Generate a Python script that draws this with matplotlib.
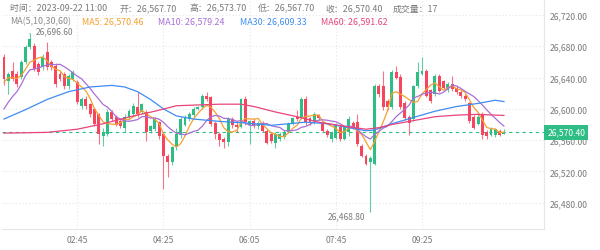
import matplotlib
matplotlib.use("Agg")
import matplotlib.pyplot as plt
import pandas as pd

plt.rcParams['font.family'] = ['Noto Sans CJK SC', 'DejaVu Sans']

# ── Data (5-minute candles, 01:20 → 11:00) ───────────────────────────────────
opens = [26666, 26636, 26648, 26645, 26641, 26660, 26679, 26680, 26657, 26654,
         26673, 26660, 26655, 26645, 26645, 26629, 26638, 26634, 26604, 26613,
         26606, 26600, 26593, 26565, 26568, 26596, 26590, 26585, 26576, 26590,
         26594, 26602, 26596, 26596, 26572, 26574, 26583, 26568, 26540, 26532,
         26551, 26566, 26580, 26587, 26592, 26600, 26602, 26617, 26615, 26582,
         26568, 26562, 26558, 26587, 26580, 26577, 26613, 26580, 26584, 26578,
         26582, 26572, 26568, 26556, 26561, 26564, 26571, 26581, 26590, 26590,
         26613, 26588, 26583, 26592, 26581, 26572, 26562, 26563, 26577, 26562,
         26570, 26582, 26583, 26553, 26540, 26532, 26530, 26629, 26629, 26610,
         26602, 26647, 26641, 26608, 26590, 26587, 26629, 26645, 26649, 26624,
         26619, 26642, 26635, 26624, 26632, 26627, 26622, 26617, 26607, 26590,
         26581, 26593, 26571, 26567, 26566, 26572, 26567.7]
closes = [26638, 26645, 26638, 26632, 26660, 26679, 26689, 26651, 26647, 26666,
          26654, 26654, 26632, 26638, 26629, 26642, 26647, 26609, 26613, 26604,
          26593, 26581, 26568, 26570, 26596, 26587, 26580, 26578, 26590, 26597,
          26604, 26593, 26606, 26570, 26578, 26587, 26565, 26540, 26532, 26551,
          26568, 26587, 26589, 26593, 26600, 26602, 26616, 26612, 26581, 26568,
          26560, 26558, 26587, 26580, 26577, 26612, 26583, 26584, 26578, 26582,
          26572, 26557, 26559, 26568, 26568, 26571, 26581, 26588, 26587, 26613,
          26583, 26583, 26594, 26588, 26572, 26566, 26570, 26580, 26561, 26578,
          26587, 26577, 26555, 26540, 26530, 26537, 26629, 26619, 26602, 26602,
          26647, 26640, 26602, 26588, 26582, 26629, 26647, 26649, 26617, 26610,
          26642, 26623, 26627, 26632, 26625, 26621, 26616, 26612, 26584, 26576,
          26590, 26567, 26565, 26575, 26574, 26567, 26570.4]
highs = [26670, 26647, 26660, 26648, 26662, 26682, 26696.6, 26684, 26660, 26670,
         26685, 26663, 26658, 26648, 26647, 26645, 26650, 26637, 26615, 26616,
         26608, 26602, 26595, 26575, 26600, 26598, 26592, 26588, 26594, 26600,
         26607, 26622, 26608, 26598, 26580, 26589, 26585, 26570, 26542, 26553,
         26575, 26589, 26592, 26596, 26602, 26604, 26619, 26621, 26617, 26584,
         26570, 26564, 26590, 26590, 26583, 26614, 26617, 26586, 26588, 26585,
         26584, 26574, 26570, 26571, 26570, 26573, 26583, 26590, 26598, 26615,
         26617, 26590, 26596, 26594, 26583, 26574, 26572, 26582, 26579, 26580,
         26591, 26585, 26593, 26555, 26542, 26540, 26632, 26632, 26648, 26612,
         26650, 26655, 26645, 26610, 26592, 26631, 26660, 26666, 26651, 26626,
         26645, 26644, 26637, 26634, 26642, 26629, 26624, 26619, 26609, 26592,
         26593, 26596, 26573, 26577, 26576, 26574, 26573.7]
lows = [26630, 26619, 26635, 26628, 26638, 26657, 26676, 26648, 26643, 26650,
        26650, 26650, 26628, 26635, 26626, 26626, 26635, 26606, 26600, 26600,
        26590, 26578, 26555, 26553, 26565, 26585, 26578, 26575, 26570, 26586,
        26591, 26590, 26594, 26559, 26569, 26572, 26562, 26497, 26513, 26528,
        26548, 26563, 26578, 26584, 26589, 26598, 26600, 26610, 26578, 26562,
        26552, 26550, 26552, 26576, 26570, 26575, 26580, 26555, 26575, 26574,
        26570, 26555, 26556, 26550, 26559, 26562, 26569, 26579, 26585, 26587,
        26580, 26580, 26581, 26586, 26570, 26564, 26558, 26561, 26559, 26560,
        26565, 26574, 26553, 26538, 26528, 26468.8, 26528, 26615, 26598, 26598,
        26600, 26638, 26600, 26586, 26567, 26585, 26627, 26643, 26615, 26608,
        26617, 26621, 26625, 26622, 26623, 26619, 26614, 26610, 26582, 26574,
        26579, 26562, 26562, 26565, 26564, 26565, 26567.7]

# closes before the visible window (only feed MA5 / MA10)
prior_closes = [26560, 26565, 26570, 26568, 26567, 26615, 26640, 26635, 26642]

# MA30 / MA60 at a few candles
ma30_idx = [0, 5, 10, 15, 20, 25, 28, 31, 34, 37, 40, 44, 50, 56, 62, 66, 70,
            75, 80, 84, 86, 90, 95, 100, 105, 110, 114, 116]
ma30_val = [26587, 26599, 26612, 26622, 26628, 26630, 26628, 26622, 26612,
            26600, 26591, 26587, 26584, 26582, 26579, 26581, 26583, 26581,
            26576, 26572, 26573, 26581, 26589, 26597, 26603, 26607, 26611,
            26609.33]
ma60_idx = [0, 10, 17, 23, 30, 35, 40, 45, 50, 55, 58, 63, 68, 73, 80, 84, 87,
            90, 95, 100, 105, 110, 114, 116]
ma60_val = [26569, 26570, 26574, 26581, 26591, 26597, 26604, 26605, 26606,
            26606, 26603, 26596, 26590, 26583, 26577, 26574, 26576, 26580,
            26585, 26590, 26592, 26593, 26592, 26591.62]

tick_labels = ["02:45", "04:25", "06:05", "07:45", "09:25"]
start_minutes = 1 * 60 + 20
y_ticks = [26480, 26520, 26560, 26600, 26640, 26680, 26720]

header = [("时间：2023-09-22 11:00", 10), ("开：26,567.70", 120),
          ("高：26,573.70", 190), ("低：26,567.70", 258),
          ("收：26,570.40", 325), ("成交量：17", 393)]
ma_legend = [("MA(5,10,30,60)", "#8a8a8a", 10), ("MA5: 26,570.46", "#f5a030", 82),
             ("MA10: 26,579.24", "#a86fd8", 158), ("MA30: 26,609.33", "#3f8cf2", 240),
             ("MA60: 26,591.62", "#e8457d", 321)]

GREEN = "#2ebd85"
RED = "#f6465d"
GRID = "#e6e6e6"
TXT = "#7a7a7a"

# ── Moving averages ──────────────────────────────────────────────────────────
full = pd.Series(prior_closes + closes)
ma5 = full.rolling(5).mean().iloc[len(prior_closes):].to_numpy()
ma10 = full.rolling(10).mean().iloc[len(prior_closes):].to_numpy()

# ── Plot ─────────────────────────────────────────────────────────────────────
fig = plt.figure(figsize=(6, 2.51), dpi=100)
ax = fig.add_axes([2 / 600, 21 / 251, 542 / 600, 230 / 251])

x = list(range(len(closes)))
for i in x:
    up = closes[i] >= opens[i]
    c = GREEN if up else RED
    ax.vlines(i, lows[i], highs[i], color=c, linewidth=0.8, alpha=0.75, zorder=2)
    bottom = min(opens[i], closes[i])
    height = max(abs(closes[i] - opens[i]), 0.8)
    ax.bar(i, height, bottom=bottom, width=0.68, color=c, linewidth=0, zorder=3)

ax.plot(x, ma5, color="#f5a030", linewidth=0.9, zorder=4)
ax.plot(x, ma10, color="#a86fd8", linewidth=0.9, zorder=4)
ax.plot(ma30_idx, ma30_val, color="#3f8cf2", linewidth=0.9, zorder=4)
ax.plot(ma60_idx, ma60_val, color="#e8457d", linewidth=0.9, zorder=4)

last = closes[-1]
ax.axhline(last, color=GREEN, linestyle=(0, (3, 3)), linewidth=0.8, zorder=1)

ax.set_xlim(-0.46, 125.3)
ax.set_ylim(26446.5, 26740.4)

ax.yaxis.tick_right()
ax.set_yticks(y_ticks)
ax.set_yticklabels([f"{v:,.2f}" for v in y_ticks])
tick_pos = [(int(t[:2]) * 60 + int(t[3:]) - start_minutes) / 5 for t in tick_labels]
ax.set_xticks(tick_pos)
ax.set_xticklabels(tick_labels)
ax.tick_params(axis="both", length=0, labelsize=6.2, colors=TXT)
ax.tick_params(axis="y", pad=4)
ax.tick_params(axis="x", pad=4)
ax.grid(True, linestyle=(0, (1, 2)), color=GRID, linewidth=0.8)
ax.set_axisbelow(True)
for s in ["top", "left"]:
    ax.spines[s].set_visible(False)
for s in ["right", "bottom"]:
    ax.spines[s].set_color("#e6e6e6")
    ax.spines[s].set_linewidth(0.8)

# last price tag
ax.annotate(f"{last:,.2f}", xy=(1.0, last), xycoords=("axes fraction", "data"),
            xytext=(2.5, 0), textcoords="offset points", ha="left", va="center",
            fontsize=6.2, color="white",
            bbox=dict(boxstyle="square,pad=0.35", fc=GREEN, ec="none"))

# high / low markers
hi = highs.index(max(highs))
lo = lows.index(min(lows))
ax.annotate(f"{max(highs):,.2f}", xy=(hi, max(highs)), xytext=(4, 2),
            textcoords="offset points", ha="left", va="center", fontsize=6,
            color=TXT, arrowprops=dict(arrowstyle="-", color=TXT, lw=0.6))
ax.annotate(f"{min(lows):,.2f}", xy=(lo, min(lows)), xytext=(-4, -3),
            textcoords="offset points", ha="right", va="center", fontsize=6,
            color=TXT, arrowprops=dict(arrowstyle="-", color=TXT, lw=0.6))

# header lines
for text, px in header:
    fig.text(px / 600, 1 - 9 / 251, text, fontsize=6.4, color=TXT, va="center")
for text, col, px in ma_legend:
    fig.text(px / 600, 1 - 22 / 251, text, fontsize=6.4, color=col, va="center")

fig.savefig("out.png", dpi=100)
